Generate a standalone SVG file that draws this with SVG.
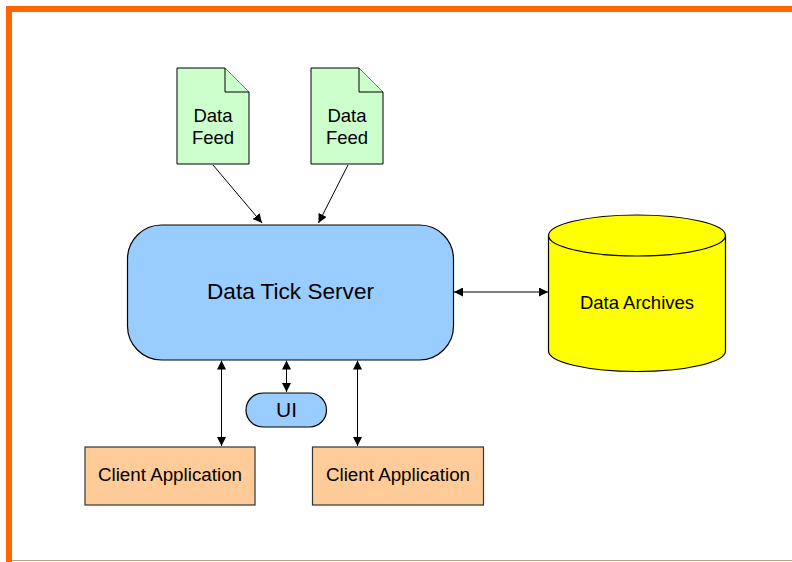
<svg xmlns="http://www.w3.org/2000/svg" width="792" height="562" viewBox="0 0 792 562">
  <style>
    .lbl { font-family: "Liberation Sans", Arial, sans-serif; fill: #000; text-anchor: middle; }
    .edge { stroke: #000; stroke-width: 1; fill: none; marker-end: url(#head); }
    .both { marker-start: url(#head); }
    .feed { fill: #ccffcc; stroke: #000; stroke-width: 1; }
    .client { fill: #ffcc99; stroke: #333; stroke-width: 1.2; }
    .blue { fill: #99ccff; stroke: #000; stroke-width: 1.2; }
  </style>
  <defs>
    <marker id="head" viewBox="0 0 10 10" refX="10" refY="5" markerWidth="9" markerHeight="9" markerUnits="userSpaceOnUse" orient="auto-start-reverse">
      <path d="M0,0 L10,5 L0,10 z" fill="#000"/>
    </marker>
  </defs>

  <!-- page frame -->
  <rect x="0" y="0" width="792" height="562" fill="#fff"/>
  <rect x="6" y="6" width="786" height="6" fill="#ff6600"/>
  <rect x="6" y="6" width="6" height="556" fill="#ff6600"/>
  <line x1="12" y1="560.5" x2="792" y2="560.5" stroke="#c8a080" stroke-width="1"/>

  <!-- connectors -->
  <g id="connectors">
    <line class="edge" x1="213" y1="165" x2="262" y2="223"/>
    <line class="edge" x1="348" y1="165" x2="318.5" y2="223"/>
    <line class="edge both" x1="454" y1="292" x2="548" y2="292"/>
    <line class="edge both" x1="221.5" y1="360.5" x2="221.5" y2="446"/>
    <line class="edge both" x1="286.5" y1="360.5" x2="286.5" y2="392"/>
    <line class="edge both" x1="357.5" y1="360.5" x2="357.5" y2="446"/>
  </g>

  <!-- data feeds -->
  <g id="feed1">
    <path class="feed" d="M177,68 H225 L249,92 V164 H177 Z"/>
    <path class="feed" d="M225,68 V92 H249"/>
    <text class="lbl" x="213" y="122" font-size="18.5">Data</text>
    <text class="lbl" x="213" y="144" font-size="18.5">Feed</text>
  </g>
  <g id="feed2">
    <path class="feed" d="M311,68 H359 L383,92 V164 H311 Z"/>
    <path class="feed" d="M359,68 V92 H383"/>
    <text class="lbl" x="347" y="122" font-size="18.5">Data</text>
    <text class="lbl" x="347" y="144" font-size="18.5">Feed</text>
  </g>

  <!-- server -->
  <g id="server">
    <rect class="blue" x="127.5" y="225" width="326" height="135" rx="34" ry="34"/>
    <text class="lbl" x="290.5" y="299" font-size="22.6">Data Tick Server</text>
  </g>

  <!-- archive cylinder -->
  <g id="archives">
    <path d="M548.5,235.5 V351 A88.5,20.5 0 0 0 725.5,351 V235.5 A88.5,20.5 0 0 0 548.5,235.5 Z" fill="#ffff00" stroke="#000" stroke-width="1.2"/>
    <path d="M548.5,235.5 A88.5,20.5 0 0 0 725.5,235.5" fill="none" stroke="#000" stroke-width="1.2"/>
    <text class="lbl" x="637" y="309" font-size="18.5">Data Archives</text>
  </g>

  <!-- UI -->
  <g id="ui">
    <rect class="blue" x="246" y="393" width="80.5" height="34" rx="17" ry="17"/>
    <text class="lbl" x="286.5" y="416.5" font-size="21">UI</text>
  </g>

  <!-- clients -->
  <g id="client1">
    <rect class="client" x="85" y="447" width="170" height="58"/>
    <text class="lbl" x="170" y="481" font-size="18.8">Client Application</text>
  </g>
  <g id="client2">
    <rect class="client" x="312.5" y="447" width="171" height="58"/>
    <text class="lbl" x="398" y="481" font-size="18.8">Client Application</text>
  </g>
</svg>
